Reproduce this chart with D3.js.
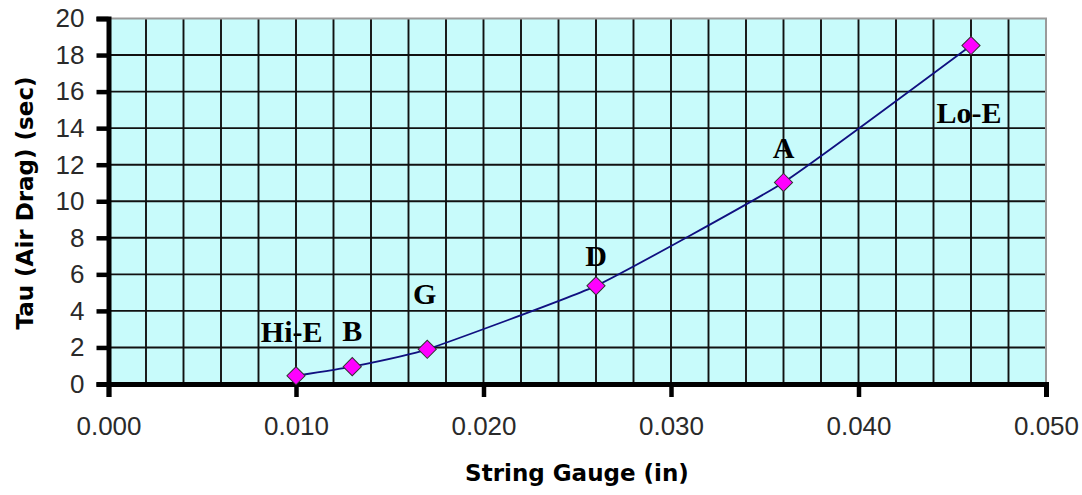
<!DOCTYPE html>
<html><head><meta charset="utf-8">
<script src="https://cdn.jsdelivr.net/npm/d3@7"></script>
<style>html,body{margin:0;padding:0;background:#fff;}svg{display:block;}</style>
</head><body>
<svg id="chart" width="1082" height="495"></svg>
<script>
// ---- data ----
const strings = ["Hi-E", "B", "G", "D", "A", "Lo-E"];
const gauge = [0.010, 0.013, 0.017, 0.026, 0.036, 0.046];
const tau = [0.45, 0.95, 1.9, 5.37, 11.03, 18.52];
// label anchors in data units (gauge, tau)
const labelGauge = [0.00977, 0.0130, 0.01686, 0.0260, 0.0360, 0.0459];
const labelTau = [2.3, 2.38, 4.38, 6.47, 12.38, 14.3];
const xTicks = [0.000, 0.010, 0.020, 0.030, 0.040, 0.050];
const xGrid = d3.range(0, 0.0501, 0.002);
const yTicks = [0, 2, 4, 6, 8, 10, 12, 14, 16, 18, 20];
const xTitle = "String Gauge (in)";
const yTitle = "Tau (Air Drag) (sec)";

const svg = d3.select("#chart");
const x = d3.scaleLinear().domain([0, 0.05]).range([108.5, 1046]);
const y = d3.scaleLinear().domain([0, 20]).range([384, 18.5]);

// plot background
svg.append("rect").attr("x", x(0)).attr("y", y(20))
  .attr("width", x(0.05) - x(0)).attr("height", y(0) - y(20))
  .attr("fill", "#c8fbfb");

// grid
svg.append("g").selectAll("line").data(xGrid.slice(1, -1)).join("line")
  .attr("x1", d => x(d)).attr("x2", d => x(d))
  .attr("y1", y(20)).attr("y2", y(0))
  .attr("stroke", "#111").attr("stroke-width", 1.9);
svg.append("g").selectAll("line").data(yTicks.slice(1, -1)).join("line")
  .attr("x1", x(0)).attr("x2", x(0.05))
  .attr("y1", d => y(d)).attr("y2", d => y(d))
  .attr("stroke", "#111").attr("stroke-width", 1.9);

// top & right border (gray)
svg.append("path")
  .attr("d", `M${x(0)},${y(20)}H${x(0.05)}V${y(0)}`)
  .attr("fill", "none").attr("stroke", "#9a9a9a").attr("stroke-width", 2);

// y axis
const yAxis = d3.axisLeft(y).tickValues(yTicks).tickSize(12).tickPadding(12).tickFormat(d3.format("d"));
const gy = svg.append("g").attr("transform", `translate(${x(0)},0)`).call(yAxis);
gy.select(".domain").attr("stroke", "#000").attr("stroke-width", 5);
gy.selectAll(".tick line").attr("stroke", "#000").attr("stroke-width", 4.5);
gy.selectAll(".tick text").attr("font-family", "'Liberation Sans', Arial, sans-serif")
  .attr("font-size", 26).attr("fill", "#2a2a2a");

// x axis
const xAxis = d3.axisBottom(x).tickValues(xTicks).tickSize(13).tickPadding(20).tickFormat(d3.format(".3f"));
const gx = svg.append("g").attr("transform", `translate(0,${y(0)})`).call(xAxis);
gx.select(".domain").attr("stroke", "#000").attr("stroke-width", 5);
gx.selectAll(".tick line").attr("stroke", "#000").attr("stroke-width", 4.5);
gx.selectAll(".tick text").attr("font-family", "'Liberation Sans', Arial, sans-serif")
  .attr("font-size", 26).attr("fill", "#2a2a2a");

// line
const pts = gauge.map((g, i) => [g, tau[i]]);
svg.append("path").datum(pts)
  .attr("d", d3.line().x(d => x(d[0])).y(d => y(d[1])).curve(d3.curveCardinal.tension(0.6)))
  .attr("fill", "none").attr("stroke", "#101080").attr("stroke-width", 1.8);

// markers
const diamond = d3.symbol().type(d3.symbolSquare).size(165);
svg.append("g").selectAll("path").data(pts).join("path")
  .attr("d", diamond)
  .attr("transform", d => `translate(${x(d[0])},${y(d[1])}) rotate(45)`)
  .attr("fill", "#ff00ff").attr("stroke", "#333").attr("stroke-width", 1);

// labels
svg.append("g").selectAll("text").data(strings).join("text")
  .attr("x", (d, i) => x(labelGauge[i])).attr("y", (d, i) => y(labelTau[i]))
  .attr("text-anchor", "middle")
  .attr("font-family", "'Liberation Serif', 'Times New Roman', serif")
  .attr("font-weight", "bold").attr("font-size", 30).attr("fill", "#000")
  .text(d => d);

// axis titles
svg.append("text").attr("x", 577).attr("y", 481).attr("text-anchor", "middle")
  .attr("font-family", "'DejaVu Sans', sans-serif").attr("font-weight", "bold")
  .attr("font-size", 23).attr("fill", "#000").text(xTitle);
svg.append("text").attr("transform", "translate(33,203) rotate(-90)").attr("text-anchor", "middle")
  .attr("font-family", "'DejaVu Sans', sans-serif").attr("font-weight", "bold")
  .attr("font-size", 23).attr("fill", "#000").text(yTitle);
</script>
</body></html>
